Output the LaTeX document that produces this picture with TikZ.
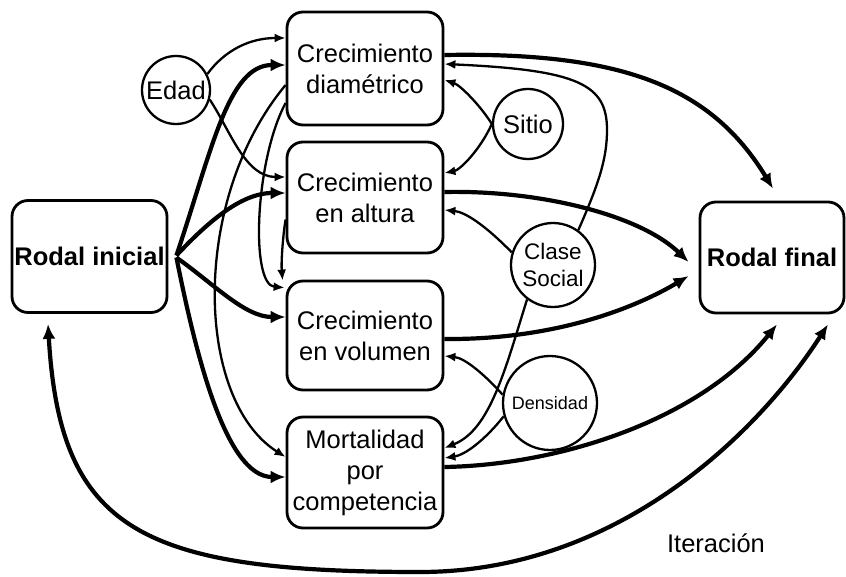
\documentclass[tikz,border=0pt]{standalone}
\usepackage{fontspec}
\setmainfont{Liberation Sans}
\usetikzlibrary{arrows.meta}
\begin{document}
\begin{tikzpicture}[x=1pt,y=-1pt,
  box/.style={draw, line width=2.8pt, rounded corners=16pt, minimum width=156pt, minimum height=112pt, inner sep=0pt, align=center, font=\fontsize{25.5}{31}\selectfont},
  circ/.style={draw, circle, line width=2.3pt, inner sep=0pt, align=center, font=\fontsize{25.5}{31}\selectfont},
  bigarr/.style={line width=4.2pt, -{Latex[length=15pt,width=13pt]}},
  smallarr/.style={line width=2.3pt, -{Latex[length=11pt,width=9pt]}},
]
\useasboundingbox (0,0) rectangle (846,577);

% boxes
\node[box, minimum width=155pt, font=\fontsize{25.5}{31}\selectfont\bfseries] (ini) at (89.5,256.5) {Rodal inicial};
\node[box, minimum width=144pt, minimum height=111pt, font=\fontsize{25.5}{31}\selectfont\bfseries] (fin) at (772,257.5) {Rodal final};
\node[box, minimum height=113pt] (dia) at (365,68.5) {Crecimiento\\diamétrico};
\node[box, minimum height=111pt] (alt) at (365,197.5) {Crecimiento\\en altura};
\node[box, minimum height=109pt] (vol) at (365,335.5) {Crecimiento\\en volumen};
\node[box, minimum height=111pt] (mor) at (365,472.5) {Mortalidad\\por\\competencia};

% circles
\node[circ, minimum size=68pt] (edad) at (176,90) {Edad};
\node[circ, minimum size=70pt] (sitio) at (528,124) {Sitio};
\node[circ, minimum size=84pt, font=\fontsize{22.5}{27}\selectfont] (clase) at (553,265) {Clase\\Social};
\node[circ, minimum size=94pt, font=\fontsize{18}{22}\selectfont] (dens) at (550,403) {Densidad};

\node[font=\fontsize{25.5}{31}\selectfont, inner sep=0pt] (iter) at (716,543) {Iteración};

% thick arrows from Rodal inicial
\draw[bigarr] ([xshift=8pt,yshift=1pt]ini.east) .. controls (212,150) and (228,65) .. ([yshift=3.5pt]dia.west);
\draw[bigarr] ([xshift=8pt,yshift=1pt]ini.east) .. controls (205,225) and (240,193) .. ([yshift=4.5pt]alt.west);
\draw[bigarr] ([xshift=8pt,yshift=-1pt]ini.east) .. controls (215,285) and (245,317) .. ([yshift=18.5pt]vol.west);
\draw[bigarr] ([xshift=8pt,yshift=-1pt]ini.east) .. controls (195,350) and (225,477) .. ([yshift=-4.5pt]mor.west);

% thick arrows to Rodal final
\draw[bigarr] ([yshift=13.5pt]dia.east) .. controls (620,52) and (710,85) .. ([xshift=1pt,yshift=12pt]fin.north);
\draw[bigarr] ([yshift=5.5pt]alt.east) .. controls (540,190) and (640,215) .. ([xshift=-10pt,yshift=-4.5pt]fin.west);
\draw[bigarr] ([yshift=-3.5pt]vol.east) .. controls (560,340) and (640,305) .. ([xshift=-10pt,yshift=-18.5pt]fin.west);
\draw[bigarr] ([yshift=5.5pt]mor.east) .. controls (560,465) and (700,420) .. ([xshift=5pt,yshift=-10pt]fin.south);

% iteration
\draw[line width=4.2pt, {Latex[length=15pt,width=13pt]}-{Latex[length=15pt,width=13pt]}]
  ([xshift=-41.5pt,yshift=-10pt]ini.south) .. controls (60,530) and (140,572) .. (420,572)
  .. controls (620,572) and (760,430) .. ([xshift=56pt,yshift=-10pt]fin.south);

% thin arrows
\draw[smallarr] (edad.27) .. controls (225,50) and (250,38) .. ([yshift=30.5pt]dia.west);
\draw[smallarr] (edad.-16) .. controls (230,130) and (245,177) .. ([yshift=20.5pt]alt.west);
\draw[smallarr] ([yshift=-16.5pt]dia.west) .. controls (190,200) and (195,400) .. ([yshift=15.5pt]mor.west);
\draw[smallarr] ([yshift=-34.5pt]dia.west) .. controls (255,160) and (250,285) .. ([xshift=-1pt,yshift=-8pt]vol.north west);
\draw[smallarr] ([yshift=-22pt]alt.west) .. controls (283,235) and (281,262) .. ([xshift=-3pt,yshift=-1pt]vol.north west);

\draw[smallarr] (sitio.west) .. controls (480,105) and (460,85) .. ([yshift=-11.5pt]dia.east);
\draw[smallarr] (sitio.west) .. controls (480,150) and (460,170) .. ([yshift=24.5pt]alt.east);
\draw[smallarr] (clase.163) .. controls (485,225) and (465,212) .. ([yshift=-12.5pt]alt.east);
\draw[smallarr] (clase.54) .. controls (598,185) and (607,160) .. (607,130)
  .. controls (607,85) and (580,70) .. ([yshift=4.5pt]dia.east);
\draw[smallarr] (clase.233) .. controls (505,370) and (490,430) .. ([yshift=24.5pt]mor.east);
\draw[smallarr] (dens.170) .. controls (485,375) and (465,358) .. ([yshift=-20.5pt]vol.east);
\draw[smallarr] (dens.196) .. controls (485,440) and (465,455) .. ([yshift=14.5pt]mor.east);
\end{tikzpicture}
\end{document}
